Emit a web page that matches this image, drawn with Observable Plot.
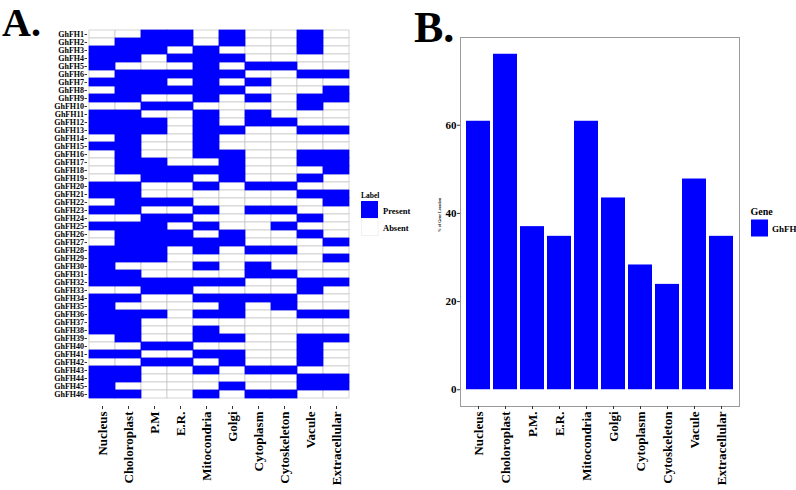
<!DOCTYPE html>
<html>
<head>
<meta charset="utf-8">
<script src="https://cdn.jsdelivr.net/npm/d3@7"></script>
<script src="https://cdn.jsdelivr.net/npm/@observablehq/plot@0.6"></script>
<style>
  body { margin: 0; background: #fff; }
  #root { position: relative; width: 796px; height: 490px; overflow: hidden; background: #fff; }
  #root > svg, #root > figure { position: absolute; top: 0; margin: 0; }
</style>
</head>
<body>
<div id="root"></div>
<script>
// ---------- data ----------
const genes = ["GhFH1","GhFH2","GhFH3","GhFH4","GhFH5","GhFH6","GhFH7","GhFH8","GhFH9","GhFH10",
  "GhFH11","GhFH12","GhFH13","GhFH14","GhFH15","GhFH16","GhFH17","GhFH18","GhFH19","GhFH20",
  "GhFH21","GhFH22","GhFH23","GhFH24","GhFH25","GhFH26","GhFH27","GhFH28","GhFH29","GhFH30",
  "GhFH31","GhFH32","GhFH33","GhFH34","GhFH35","GhFH36","GhFH37","GhFH38","GhFH39","GhFH40",
  "GhFH41","GhFH42","GhFH43","GhFH44","GhFH45","GhFH46"];
const heatLocations = ["Nucleus","Choloroplast","P.M","E.R.","Mitocondria","Golgi","Cytoplasm","Cytoskeleton","Vacule","Extracellular"];
const barLocations = ["Nucleus","Choloroplast","P.M.","E.R.","Mitocondria","Golgi","Cytoplasm","Cytoskeleton","Vacule","Extracellular"];

// presence (1) / absence (0) per location, rows GhFH1..GhFH46
const nucleus       = [0,0,1,1,1,0,1,0,1,0, 1,1,1,0,1,0,0,0,0,1, 1,0,1,0,1,0,0,1,1,1, 1,1,0,1,1,1,1,1,0,0, 1,0,1,1,1,1];
const chloroplast   = [0,1,1,1,0,1,1,1,1,0, 1,1,1,1,1,1,1,1,0,1, 1,1,1,0,1,1,1,1,1,0, 1,1,0,1,0,1,1,1,1,0, 1,0,1,1,0,1];
const plasmaMemb    = [1,1,1,0,0,1,1,1,0,1, 0,1,1,0,0,0,1,1,1,0, 0,1,0,1,1,1,1,1,1,0, 0,1,1,0,0,1,0,0,0,1, 0,1,0,0,0,0];
const endoRet       = [1,1,0,1,0,1,0,1,0,1, 0,0,0,0,0,0,0,1,1,0, 0,1,0,1,0,1,1,0,0,0, 0,1,1,0,0,0,0,0,0,1, 0,1,0,0,0,0];
const mitochondria  = [0,0,1,1,1,1,1,1,1,0, 1,1,1,1,1,1,0,1,0,1, 0,0,1,0,1,0,1,1,0,1, 0,1,0,1,0,1,0,1,1,0, 1,0,1,0,0,1];
const golgi         = [1,1,0,1,0,1,0,1,0,0, 0,0,1,0,0,1,1,1,1,0, 0,0,0,0,0,1,1,0,0,0, 0,1,0,1,1,1,0,0,1,0, 1,1,0,0,1,0];
const cytoplasm     = [0,0,0,0,1,0,1,0,1,0, 1,1,0,0,0,0,0,0,0,1, 0,0,1,0,0,0,0,1,0,1, 1,0,0,1,0,0,0,0,0,0, 0,0,1,0,0,1];
const cytoskeleton  = [0,0,0,0,1,0,0,0,0,0, 0,1,0,0,0,0,0,0,0,1, 0,0,1,0,1,0,0,1,0,0, 1,0,0,1,1,0,0,0,0,0, 0,0,1,0,0,1];
const vacuole       = [1,1,1,0,0,1,0,0,1,1, 0,0,1,0,0,1,1,0,1,0, 1,0,0,1,0,1,0,0,0,0, 0,1,1,0,0,1,0,0,1,1, 1,1,0,1,1,0];
const extracellular = [0,0,0,0,0,1,0,1,1,0, 0,0,1,0,0,1,1,1,0,0, 1,1,0,0,0,0,1,0,1,0, 0,1,0,0,0,1,0,0,1,0, 0,0,0,1,1,0];

// % of gene location (bar chart B)
const percentLocation = [60.9, 76.1, 37.0, 34.8, 60.9, 43.5, 28.3, 23.9, 47.8, 34.8];

const statusLabels = ["Present", "Absent"];
const geneSeries = ["GhFH"];

// ---------- build tables ----------
const presence = [nucleus, chloroplast, plasmaMemb, endoRet, mitochondria, golgi, cytoplasm, cytoskeleton, vacuole, extracellular];
const cells = [];
heatLocations.forEach((loc, j) => {
  genes.forEach((g, i) => {
    cells.push({loc, gene: g, status: presence[j][i] ? statusLabels[0] : statusLabels[1]});
  });
});
const bars = barLocations.map((loc, i) => ({loc, pct: percentLocation[i], gene: geneSeries[0]}));

const BLUE = "#0000FF";
const FONT = "'Liberation Serif', 'Times New Roman', serif";
const root = document.getElementById("root");

// ---------- Panel A: heatmap ----------
const plotA = Plot.plot({
  width: 380, height: 490,
  marginLeft: 87, marginTop: 21, marginRight: 30, marginBottom: 84,
  style: {fontFamily: FONT, fontWeight: "bold", color: "#000", background: "transparent"},
  x: {domain: heatLocations, padding: 0, label: null},
  y: {domain: genes, padding: 0, label: null},
  color: {domain: statusLabels, range: [BLUE, "#FFFFFF"]},
  marks: [
    Plot.cell(cells, {x: "loc", y: "gene", fill: "#FFFFFF", stroke: "#c4c4c4", strokeWidth: 0.7, inset: 0}),
    Plot.cell(cells.filter(d => d.status === "Present"), {x: "loc", y: "gene", fill: "status", stroke: "status", strokeWidth: 0.7, inset: 0}),
    Plot.axisX({tickRotate: -90, fontSize: 13, fontWeight: "bold", tickSize: 3, tickPadding: 2, label: null, stroke: "#333"}),
    Plot.axisY({fontSize: 8, fontWeight: "bold", tickSize: 2.5, tickPadding: 1, label: null, stroke: "#333"})
  ]
});
plotA.style.left = "0px";
root.appendChild(plotA);

// ---------- Panel B: bar chart ----------
const plotB = Plot.plot({
  width: 416, height: 490,
  marginLeft: 80, marginRight: 57, marginTop: 37, marginBottom: 84,
  style: {fontFamily: FONT, fontWeight: "bold", color: "#000", background: "transparent"},
  x: {domain: barLocations, paddingInner: 0.1, paddingOuter: 0.15, label: null},
  y: {domain: [-3.8, 79.9], label: null},
  marks: [
    Plot.barY(bars, {x: "loc", y: "pct", fill: BLUE}),
    Plot.frame({stroke: "#9a9a9a", strokeWidth: 1}),
    Plot.axisX({tickRotate: -90, fontSize: 13, fontWeight: "bold", tickSize: 3, tickPadding: 2, label: null, stroke: "#333"}),
    Plot.axisY({ticks: [0, 20, 40, 60], fontSize: 11, fontWeight: "bold", tickSize: 3, tickPadding: 1, label: null, stroke: "#333"})
  ]
});
plotB.style.left = "380px";
root.appendChild(plotB);

// ---------- overlay: panel letters, legends, axis title ----------
const ov = d3.select(root).append("svg")
  .attr("width", 796).attr("height", 490)
  .style("position", "absolute").style("left", "0px").style("top", "0px")
  .style("pointer-events", "none")
  .style("font-family", FONT).style("font-weight", "bold");

ov.append("text").attr("x", 2).attr("y", 36).attr("font-size", 40).text("A.");
ov.append("text").attr("x", 414).attr("y", 42).attr("font-size", 44).text("B.");

// legend A
ov.append("text").attr("x", 361).attr("y", 197.5).attr("font-size", 7.5).text("Label");
ov.append("rect").attr("x", 361).attr("y", 201).attr("width", 17).attr("height", 17).attr("fill", BLUE);
ov.append("rect").attr("x", 361.5).attr("y", 218.5).attr("width", 16.5).attr("height", 17).attr("fill", "#fff").attr("stroke", "#e6e6e6").attr("stroke-width", 0.6);
ov.append("text").attr("x", 383).attr("y", 213.5).attr("font-size", 8.5).text(statusLabels[0]);
ov.append("text").attr("x", 383).attr("y", 231).attr("font-size", 8.5).text(statusLabels[1]);

// legend B
ov.append("text").attr("x", 750.5).attr("y", 215).attr("font-size", 10).text("Gene");
ov.append("rect").attr("x", 751).attr("y", 219.5).attr("width", 17).attr("height", 17).attr("fill", BLUE);
ov.append("text").attr("x", 772).attr("y", 231.5).attr("font-size", 9).text(geneSeries[0]);

// y-axis title B
ov.append("text").attr("transform", "translate(441,215) rotate(-90)")
  .attr("text-anchor", "middle").attr("font-size", 4).text("% of Gene Location");
</script>
</body>
</html>
